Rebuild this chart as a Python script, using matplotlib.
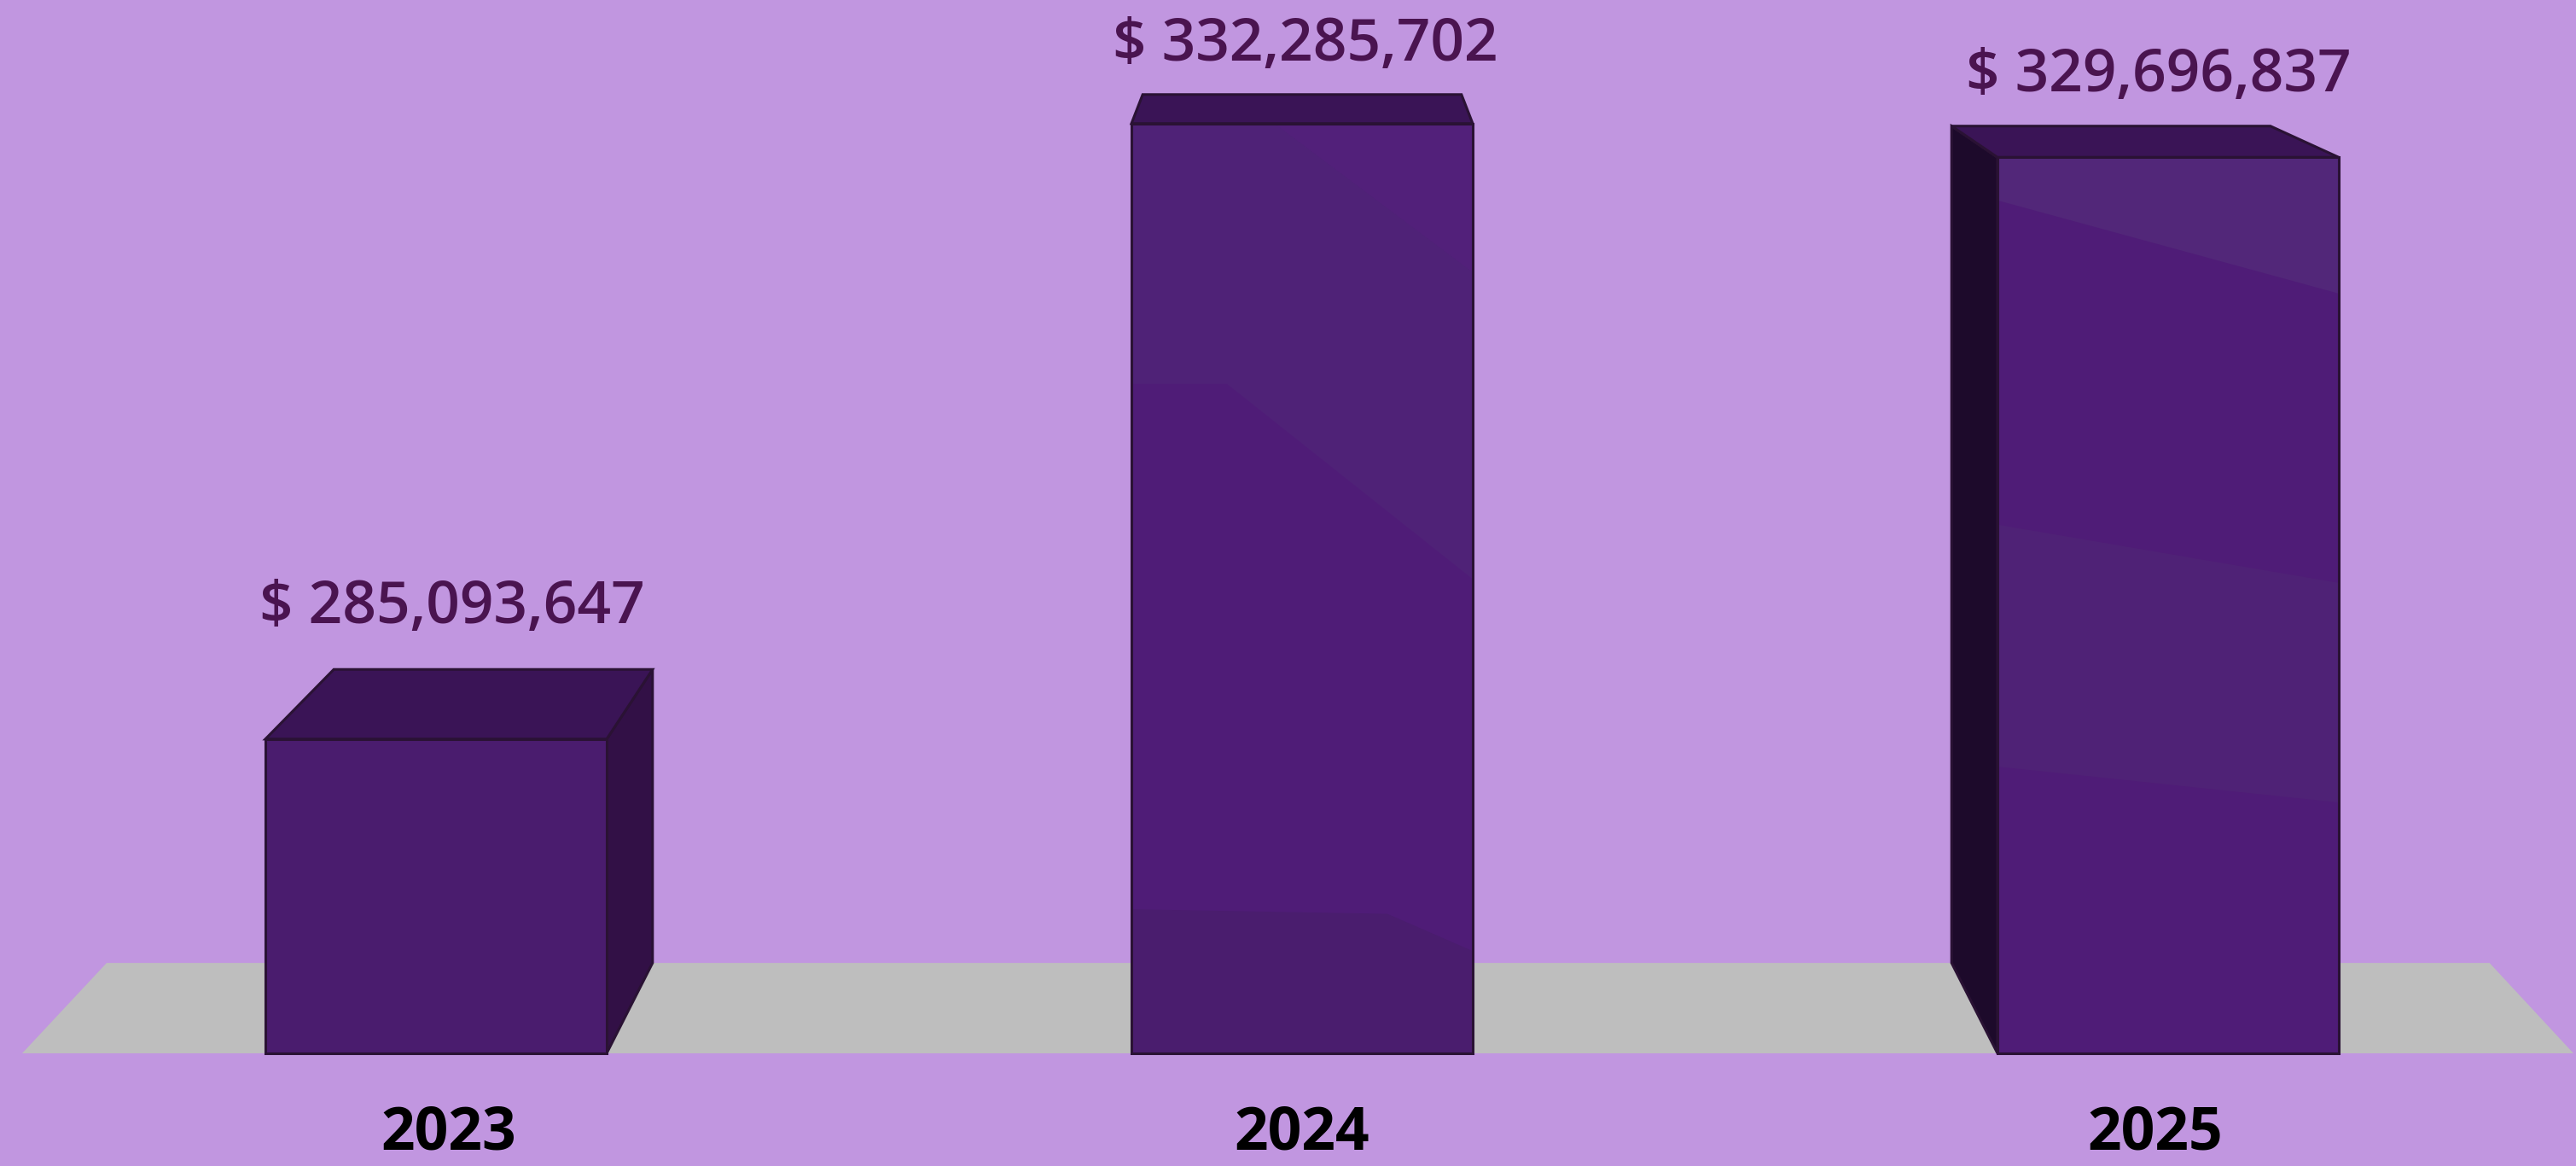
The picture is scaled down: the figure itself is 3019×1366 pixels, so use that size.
import numpy as np
import matplotlib.pyplot as plt
from matplotlib.patches import Polygon

# data
years = ['2023', '2024', '2025']
values = [285093647, 332285702, 329696837]

# axis / look
axis_min = 261e6
y_lo, y_hi = 252.36e6, 341.76e6
bar_w = 0.40
spread = 0.015  # bars sit a touch wider apart than the labels (perspective)
bg = '#C196E0'
floor_col = '#BEBEBE'
front_cols = ['#4A1C6E', '#4F1C77', '#4F1C77']
top_col = '#3A1456'
right_col = '#321046'
left_col = '#1D0A2B'
edge_col = '#2A1234'
label_col = '#4A1450'

# faint shading bands on the front faces, as (u, v) fractions of the face
# (u: 0 left -> 1 right, v: 0 top -> 1 bottom)
bands = {
    1: [
        ('#4F2277', [(0, 0), (1, 0), (1, 0.49), (0.28, 0.28), (0, 0.28)]),
        ('#52207A', [(0.42, 0), (1, 0), (1, 0.16)]),
        ('#4A1D6E', [(0, 0.845), (0.75, 0.85), (1, 0.89), (1, 1), (0, 1)]),
    ],
    2: [
        ('#522779', [(0, 0), (1, 0), (1, 0.152), (0, 0.048)]),
        ('#4F2276', [(0, 0.41), (1, 0.475), (1, 0.72), (0, 0.68)]),
    ],
}

# simple perspective: points pushed back toward a vanishing point
vx, vy = 1.0, 366.0e6
depth = 0.066


def persp(x, y):
    return x + depth * (vx - x), y + depth * (vy - y)


fig = plt.figure(figsize=(30.19, 13.66), dpi=100, facecolor=bg)
ax = fig.add_axes([0, 0, 1, 1])
ax.set_facecolor(bg)
ax.set_xlim(-0.526, 2.493)
ax.set_ylim(y_lo, y_hi)
ax.axis('off')

# floor
fl, fr = -0.50, 2.49
floor = [(fl, axis_min), (fr, axis_min), persp(fr, axis_min), persp(fl, axis_min)]
ax.add_patch(Polygon(floor, closed=True, facecolor=floor_col, edgecolor='none', zorder=1))

x = np.arange(len(years))
xb = x + spread * (x - vx)
for i, v in enumerate(values):
    x0, x1 = xb[i] - bar_w / 2, xb[i] + bar_w / 2
    b, t = axis_min, v
    # side face
    if x1 < vx:
        side = [(x1, b), (x1, t), persp(x1, t), persp(x1, b)]
        ax.add_patch(Polygon(side, closed=True, facecolor=right_col, edgecolor=edge_col,
                             linewidth=2.2, zorder=2))
    elif x0 > vx:
        side = [(x0, b), (x0, t), persp(x0, t), persp(x0, b)]
        ax.add_patch(Polygon(side, closed=True, facecolor=left_col, edgecolor=edge_col,
                             linewidth=2.2, zorder=2))
    # top face
    top = [(x0, t), (x1, t), persp(x1, t), persp(x0, t)]
    ax.add_patch(Polygon(top, closed=True, facecolor=top_col, edgecolor=edge_col,
                         linewidth=2.2, zorder=2))

ax.bar(xb, np.array(values) - axis_min, bottom=axis_min, width=bar_w,
       color=front_cols, edgecolor='none', zorder=3)

# shading bands on the front faces
for i, lst in bands.items():
    x0 = xb[i] - bar_w / 2
    t = values[i]
    for col, pts in lst:
        poly = [(x0 + u * bar_w, t - w * (t - axis_min)) for u, w in pts]
        ax.add_patch(Polygon(poly, closed=True, facecolor=col, edgecolor='none', zorder=4))

# outline of the front faces on top
ax.bar(xb, np.array(values) - axis_min, bottom=axis_min, width=bar_w,
       color='none', edgecolor=edge_col, linewidth=2.2, zorder=5)

for i, v in enumerate(values):
    _, back_y = persp(x[i], v)
    by = v + 1.3 * (back_y - v)
    ax.annotate(f'$ {v:,.0f}', (x[i], by), xytext=(3, 34), textcoords='offset points',
                ha='center', va='center', fontsize=50, fontweight='semibold',
                family='Open Sans', color=label_col)
    ax.annotate(years[i], (x[i], axis_min), xytext=(0, -68), textcoords='offset points',
                ha='center', va='center', fontsize=50, fontweight='bold',
                family='Open Sans', color='black')

fig.savefig('out.png', dpi=100, facecolor=bg)
